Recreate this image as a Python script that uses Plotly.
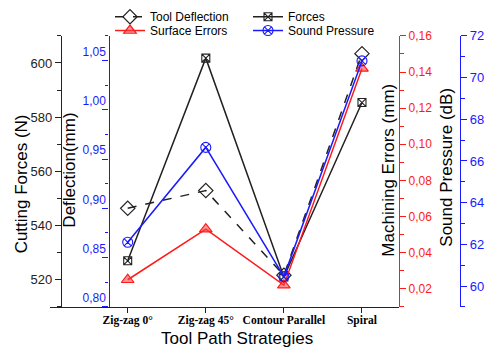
import plotly.graph_objects as go

# Tool path strategies and measured responses
categories = ["Zig-zag 0°", "Zig-zag 45°", "Contour Parallel", "Spiral"]
deflection_mm = [0.900, 0.918, 0.832, 1.057]
forces_n = [527.0, 601.8, 521.0, 585.4]
surface_errors_mm = [0.025, 0.053, 0.022, 0.142]
sound_db = [62.1, 66.65, 60.45, 70.8]

W, H = 494, 348
PLOT_LEFT, PLOT_RIGHT = 50, 399
PLOT_TOP, PLOT_BOTTOM = 29.5, 306

BLUE = "#1a1aff"
RED = "#ff1a1a"
BLACK = "#222222"

ydom = [(H - PLOT_BOTTOM) / H, (H - PLOT_TOP) / H]

fig = go.Figure()

fig.add_trace(go.Scatter(
    x=categories, y=deflection_mm, name="Tool Deflection", yaxis="y2",
    mode="lines+markers", legend="legend",
    line=dict(color=BLACK, width=1.5, dash="dash"),
    marker=dict(symbol="diamond-open", size=11, color=BLACK, line=dict(width=1.2)),
))
fig.add_trace(go.Scatter(
    x=categories, y=forces_n, name="Forces", yaxis="y",
    mode="lines+markers", legend="legend",
    line=dict(color=BLACK, width=1.5),
    marker=dict(symbol="square-x-open", size=8, color=BLACK, line=dict(width=1.1)),
))
fig.add_trace(go.Scatter(
    x=categories, y=surface_errors_mm, name="Surface Errors", yaxis="y3",
    mode="lines+markers", legend="legend2",
    line=dict(color=RED, width=1.5),
    marker=dict(symbol="triangle-up", size=11, color="rgba(255,60,60,0.55)",
                line=dict(color=RED, width=1.2)),
))
fig.add_trace(go.Scatter(
    x=categories, y=sound_db, name="Sound Pressure", yaxis="y4",
    mode="lines+markers", legend="legend2",
    line=dict(color=BLUE, width=1.5),
    marker=dict(symbol="circle-x-open", size=10, color=BLUE, line=dict(width=1.1)),
))


def yax(color, rng, dtick, tick0, minor_dtick, pos, side="left", labelpos="outside", size=13):
    return dict(
        domain=ydom, anchor="free", position=pos, side=side,
        range=rng, dtick=dtick, tick0=tick0,
        showline=True, linecolor=color, linewidth=1.4,
        ticks="outside", ticklen=6, tickwidth=1.2, tickcolor=color,
        minor=dict(dtick=minor_dtick, ticks="outside", ticklen=3.5, tickwidth=1.2,
                   tickcolor=color, showgrid=False),
        tickfont=dict(family="Arial", size=size, color=color),
        ticklabelposition=labelpos,
        showgrid=False, zeroline=False, fixedrange=True,
    )


legend_style = dict(
    orientation="h", xanchor="left", yanchor="middle",
    entrywidth=93, entrywidthmode="pixels",
    font=dict(family="Arial", size=12, color="black"),
    bgcolor="rgba(0,0,0,0)", borderwidth=0,
)

fig.update_layout(
    width=W, height=H,
    margin=dict(l=0, r=0, t=0, b=0),
    paper_bgcolor="white", plot_bgcolor="white",
    separators=",.",
    font=dict(family="Arial", color="black"),
    xaxis=dict(
        domain=[PLOT_LEFT / W, PLOT_RIGHT / W],
        type="category", range=[-0.995, 3.474],
        showline=True, linecolor=BLACK, linewidth=1.4,
        ticks="outside", ticklen=5, tickwidth=1.2, tickcolor=BLACK,
        ticklabelstandoff=-3,
        tickfont=dict(family="Liberation Serif", size=11.5, color="black", weight="bold"),
        showgrid=False, zeroline=False,
    ),
    yaxis=yax(BLACK, [510, 610], 20, 520, 10, 61 / W, size=13),
    yaxis2=dict(**yax(BLUE, [0.80, 1.075], 0.05, 0.80, 0.025, 108.5 / W,
                      labelpos="outside top", size=12),
                overlaying="y", tickformat=".2f"),
    yaxis3=dict(**yax(RED, [0.01, 0.16], 0.02, 0.02, 0.01, PLOT_RIGHT / W,
                      side="right", size=12),
                overlaying="y", tickformat=".2f"),
    yaxis4=dict(**yax(BLUE, [59, 72], 2, 60, 1, 460 / W, side="right", size=13),
                overlaying="y"),
    legend=dict(**legend_style, x=110 / W, y=1 - 10 / H),
    legend2=dict(**legend_style, x=110 / W, y=1 - 24 / H),
    showlegend=True,
)

# Axis titles
titles = [
    ("Cutting Forces (N)", 21, 181),
    ("Deflection(mm)", 70, 167),
    ("Machining Errors (mm)", 389, 167),
    ("Sound Pressure (dB)", 447, 164),
]
for text, px, py in titles:
    fig.add_annotation(
        text=text, xref="paper", yref="paper", x=px / W, y=1 - py / H,
        xanchor="center", yanchor="middle", textangle=-90, showarrow=False,
        font=dict(family="Arial", size=17, color="black"),
    )

fig.add_annotation(
    text="Tool Path Strategies", xref="paper", yref="paper",
    x=237 / W, y=1 - 338 / H, xanchor="center", yanchor="middle", showarrow=False,
    font=dict(family="Arial", size=17, color="black"),
)

fig.write_html("out.html")
